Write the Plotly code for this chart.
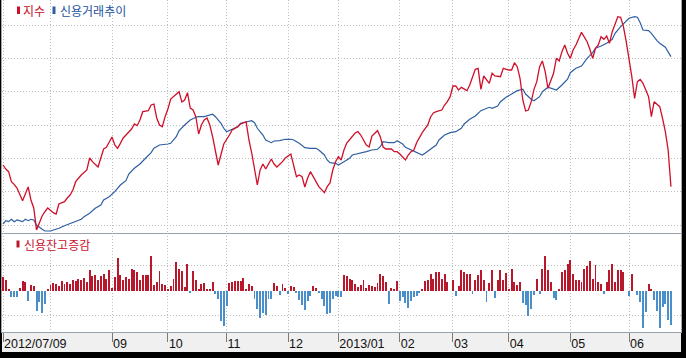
import plotly.graph_objects as go

# ---------------- data (trading-day index 0 = 2012/07/09) ----------------
month_tick_days = [0, 39, 59, 80, 102, 120, 142, 161, 181, 203, 224]
month_tick_labels = ["2012/07/09", "09", "10", "11", "12", "2013/01", "02", "03", "04", "05", "06"]
aug_grid_days = [17]

# 지수 (index level)
index_days = [0, 1, 2, 3, 4, 5, 7, 8, 9, 10, 11, 12, 13, 14, 15, 16, 18, 19, 20, 22, 23, 24, 25, 26, 28,
              30, 31, 32, 34, 35, 36, 37, 39, 40, 41, 42, 43, 44, 46, 47, 48, 49, 50, 52, 53, 54, 55, 56,
              57, 58, 59, 60, 62, 63, 64, 65, 66, 67, 68, 69, 70, 71, 72, 73, 74, 75, 77, 78, 79, 81, 82,
              84, 85, 87, 88, 89, 90, 91, 92, 93, 94, 96, 97, 98, 100, 101, 103, 104, 105, 106, 107, 108,
              109, 110, 112, 113, 115, 116, 117, 118, 119, 120, 121, 122, 123, 124, 126, 127, 128, 130,
              131, 132, 134, 135, 136, 137, 139, 140, 141, 142, 144, 145, 146, 147, 148, 150, 152, 153,
              154, 155, 157, 158, 159, 160, 161, 162, 163, 164, 166, 167, 168, 169, 170, 171, 172, 173,
              174, 175, 176, 178, 179, 181, 182, 183, 184, 185, 186, 187, 188, 189, 190, 191, 192, 193,
              194, 195, 196, 197, 198, 199, 200, 201, 202, 203, 204, 205, 207, 209, 210, 211, 212, 213,
              214, 215, 216, 217, 218, 219, 220, 221, 222, 223, 224, 225, 226, 227, 228, 229, 231, 232,
              233, 235, 236, 237, 238, 239]
index_vals = [516, 513.6, 512, 506, 504.4, 502.2, 494.6, 499, 502.8, 495, 490.2, 477, 481, 485.4, 488,
              490.2, 487.4, 486.6, 492.6, 494, 496.2, 498, 501, 506, 510,
              513, 520.2, 518, 514.8, 520.2, 525.6, 526.6, 532.8, 528, 526, 529, 532.2, 534, 537.6, 540.6,
              539.6, 543, 548, 548.6, 552, 552.6, 544.2, 540,
              539, 545, 549.6, 555.6, 558.6, 560, 553.8, 555, 559.4, 550.2, 549, 545, 534.6, 540, 543,
              544.2, 540, 533, 516, 522, 528.6, 534, 537,
              539, 540.6, 541.8, 531, 523.2, 513, 504, 513, 516.6, 513.6, 519.6, 516.6, 514.8, 518, 520.2,
              522.6, 515, 509, 510, 509, 502.8,
              508.2, 512, 506, 503, 499.4, 503, 505.2, 513, 518, 521, 519, 525, 529.2, 531, 535.2, 536,
              534, 528,
              526.8, 533.4, 536.6, 533, 526.8, 525.6, 525.6, 524, 524, 522.6, 519, 522, 524, 525, 529.4,
              535.4, 540, 544.8,
              547.2, 548, 549, 552, 554, 557, 563.4, 563.4, 561, 562.6, 560.6, 564, 569, 573.4, 574,
              561.4, 569.4, 567,
              565, 571, 569.4, 569, 574, 573, 573, 577.4, 575, 568, 555, 548.4, 549, 554, 561.4, 566,
              575, 578.4,
              572, 562, 566, 571, 580, 578.4, 584, 588, 583, 580, 585, 588, 595.6, 590, 585.4, 580, 586,
              588,
              593, 591.4, 593.4, 589, 596, 600, 605, 604.6, 599, 590, 580, 569, 556, 566, 567.4, 565,
              557, 545,
              554, 551, 544, 536, 525, 503]

# 신용거래추이 (credit balance, 억원)
credit_days = [0, 1, 2, 3, 4, 5, 7, 8, 9, 10, 11, 12, 14, 15, 17, 19, 20, 22, 24, 26, 28, 29, 31, 33, 35,
               36, 38, 40, 42, 44, 45, 47, 49, 51, 53, 54, 56, 59, 60, 62, 63, 65, 67, 69, 70, 72, 73, 75,
               76, 78, 79, 80, 82, 84, 85, 87, 89, 90, 91, 93, 94, 96, 97, 99, 101, 103, 104, 106, 108,
               110, 112, 113, 115, 116, 117, 119, 120, 122, 124, 125, 128, 130, 132, 134, 135, 136, 138,
               140, 141, 143, 144, 146, 148, 150, 151, 153, 155, 156, 158, 160, 162, 164, 165, 167, 169,
               171, 172, 174, 175, 177, 178, 180, 182, 184, 186, 187, 189, 190, 192, 193, 195, 196, 198,
               200, 202, 203, 205, 207, 209, 211, 212, 214, 216, 218, 219, 221, 223, 224, 226, 227, 228,
               229, 231, 232, 234, 235, 237, 238, 239]
credit_vals = [16400, 16483, 16458, 16518, 16458, 16500, 16458, 16518, 16483, 16518, 16500, 16375, 16268,
               16225, 16225, 16268, 16293, 16358, 16418, 16458, 16518, 16583, 16668, 16793, 16875,
               17000, 17083, 17208, 17375, 17483, 17650, 17793, 17900, 18043, 18183, 18293, 18375, 18400,
               18418, 18583, 18733, 18875, 19000, 19068, 19083, 19083, 19100, 19143,
               19083, 18918, 18793, 18708, 18768, 18833, 18918, 18958, 18983, 18933, 18793, 18625, 18500,
               18433, 18475, 18483, 18518, 18518, 18500, 18418, 18308,
               18293, 18293, 18250, 18125, 18000, 17933, 17918, 17875, 17958, 18043, 18125, 18168, 18208,
               18250, 18268, 18333, 18458, 18433,
               18433, 18483, 18400, 18318, 18250, 18183, 18125, 18168, 18268, 18375, 18500, 18625, 18683,
               18708, 18793, 18900, 19018, 19100,
               19233, 19268, 19318, 19293, 19350, 19458, 19568, 19650, 19733, 19768, 19650, 19518, 19483,
               19583, 19708, 19818, 19793, 19750,
               19875, 20018, 20183, 20293, 20350, 20543, 20683, 20793, 20850, 20918, 21018, 21168, 21333,
               21483, 21543, 21583, 21568, 21433,
               21250, 21233, 21168, 20983, 20918, 20818, 20683, 20583]

# 신용잔고증감 (daily change of credit balance, 억원), one value per trading day
credit_change = [
    # 2012-07
    140, 110, 20, -60, -60, -60, 30, 100, 90, -100, 60, 50, -200, -110, -220, -130, 10,
    # 08
    60, 80, 70, 50, 100, 70, 90, 70, 110, 100, 120, 110, 130, 90, 210, 150, 160, 110, 150, 170, 120, 210,
    # 09
    30, 140, 330, 160, 110, 140, 120, 220, 210, 190, 110, 160, 160, 160, 350, 60, 90, 200, 70, 60,
    # 10
    10, 50, 120, 290, 220, 200, 40, 270, -20, 200, 110, 20, 70, 80, 20, 20, 90, -30, -80, -300, -350,
    # 11
    -150, 80, 90, 100, 100, 100, 130, 20, 70, 50, -80, -180, -270, -220, -240, -80, -80, 80, 50, -40, 70, 30,
    # 12
    -30, 50, 40, -20, -90, -140, -190, -100, -50, 50, 30, -20, -80, -150, -230, -220, -80, -50,
    # 2013-01
    -60, -60, 160, 150, 120, 110, 70, 40, 60, 110, 30, 60, 50, 40, 80, 170, 150, 90, -130, 30, 10, 100,
    # 02
    -100, -60, -120, -170, -100, -60, -50, -20, 20, 100, 110, 170, 120, 190, 190, 120, 170, 90, 0,
    # 03
    110, -50, 50, 210, 190, 170, 170, -30, 110, 160, 210, 110, -110, 80, 210, -70, 110, 210, 110, 180,
    # 04
    10, 220, 90, 60, 90, -120, -140, -250, -180, -40, 120, -30, 220, 350, 210, 90, -70, -90, 20, 190, 210, 270,
    # 05
    310, 170, 110, 110, 90, 220, 250, 300, 120, 260, 90, 70, -30, 90, 210, 270, 90, 210, 210, 190, 0,
    # 06
    -50, 170, 0, -40, -110, -370, -210, 70, 10, -90, -200, -370, -160, -130, -290, -340,
]

# ---------------- styling ----------------
RED_LINE = "#d0102a"
BLUE_LINE = "#2f5fa3"
RED_BAR = "#b8182c"
BLUE_BAR = "#4a8fc9"
GRID = "#bdbdbd"
GRID_DASH = "1px,2px"
AXLINE = "#98a2ac"
W, H = 686, 358
L, R, T, B = 2, 5, 0, 26
PW, PH = W - L - R, H - T - B
SPLIT = (PH - 233) / PH  # bottom of upper panel in paper units


def px_x(p):
    return (p - L) / PW


def px_y(p):
    return (PH - (p - T)) / PH


days = list(range(len(credit_change)))
bar_colors = [RED_BAR if v >= 0 else BLUE_BAR for v in credit_change]

fig = go.Figure()
fig.add_trace(go.Bar(x=days, y=credit_change, width=0.34,
                     marker=dict(color=bar_colors, line=dict(width=0)),
                     xaxis="x2", yaxis="y2", name="신용잔고증감"))
fig.add_trace(go.Scatter(x=credit_days, y=credit_vals, mode="lines",
                         line=dict(color=BLUE_LINE, width=1.2), xaxis="x", yaxis="y",
                         name="신용거래추이"))
fig.add_trace(go.Scatter(x=index_days, y=index_vals, mode="lines",
                         line=dict(color=RED_LINE, width=1.3), xaxis="x", yaxis="y3", name="지수"))

xrange = [-0.36, 242.6]
grid_common = dict(showgrid=True, gridcolor=GRID, griddash=GRID_DASH, gridwidth=1, zeroline=False)

fig.update_layout(
    width=W, height=H,
    margin=dict(l=L, r=R, t=T, b=B, pad=0),
    paper_bgcolor="black", plot_bgcolor="white",
    showlegend=False, hovermode=False, bargap=0,
    xaxis=dict(domain=[0, 1], anchor="y", range=xrange, tickvals=month_tick_days,
               showticklabels=False, ticks="", showline=True, linecolor=AXLINE, linewidth=1,
               minor=dict(tickvals=aug_grid_days, showgrid=True, gridcolor=GRID, griddash=GRID_DASH,
                          ticks=""),
               **grid_common),
    yaxis=dict(domain=[SPLIT, 1], anchor="x", range=[16175, 22000], showgrid=False,
               zeroline=False, showticklabels=False, ticks="", showline=True, mirror=True,
               linecolor="#a8a8a8", linewidth=1),
    yaxis3=dict(overlaying="y", anchor="x", range=[475.2, 615],
                tickvals=[480, 500, 520, 540, 560, 580, 600], showticklabels=False, ticks="",
                **grid_common),
    xaxis2=dict(domain=[0, 1], anchor="y2", range=xrange, tickvals=month_tick_days,
                ticktext=month_tick_labels, ticks="outside", ticklen=9, tickcolor="#7a7a7a",
                tickwidth=1, ticklabelposition="outside right", ticklabelstandoff=0,
                tickfont=dict(family="Liberation Sans, Arial, sans-serif",
                              size=12.5, color="#111111"),
                showline=True, linecolor=AXLINE, linewidth=1,
                minor=dict(tickvals=aug_grid_days, showgrid=True, gridcolor=GRID, griddash=GRID_DASH,
                           ticks=""),
                **grid_common),
    yaxis2=dict(domain=[0, SPLIT], anchor="x2", range=[-415, 575], tickvals=[-250, 250],
                showticklabels=False, ticks="", showline=True, mirror=True,
                linecolor="#a8a8a8", linewidth=1, **grid_common),
)

# label band under the plot
fig.add_shape(type="rect", xref="paper", yref="paper", x0=0, x1=1, y0=px_y(352), y1=px_y(332.5),
              fillcolor="#f0f0f0", line=dict(width=0), layer="below")

# legend swatches and texts
swatches = [(17, 20, 6.5, 14, RED_LINE), (52.5, 55.5, 6.5, 14, BLUE_LINE),
            (16.5, 19.5, 240.5, 247.5, RED_BAR)]
for x0, x1, y0, y1, c in swatches:
    fig.add_shape(type="rect", xref="paper", yref="paper", x0=px_x(x0), x1=px_x(x1),
                  y0=px_y(y1), y1=px_y(y0), fillcolor=c, line=dict(width=0))

KFONT = "Noto Sans CJK KR, sans-serif"
labels = [("지수", 22.3, 10, "#c8102e"), ("신용거래추이", 59.3, 10, "#2352a0"),
          ("신용잔고증감", 22.7, 244, "#c8102e")]
for txt, x, y, c in labels:
    fig.add_annotation(text=txt, xref="paper", yref="paper", x=px_x(x), y=px_y(y),
                       xanchor="left", yanchor="middle", showarrow=False, borderpad=0,
                       font=dict(family=KFONT, size=12, color=c))

fig.write_html("out.html", config={"displayModeBar": False},
               post_script="document.body.style.margin='0';document.body.style.overflow='hidden';")
